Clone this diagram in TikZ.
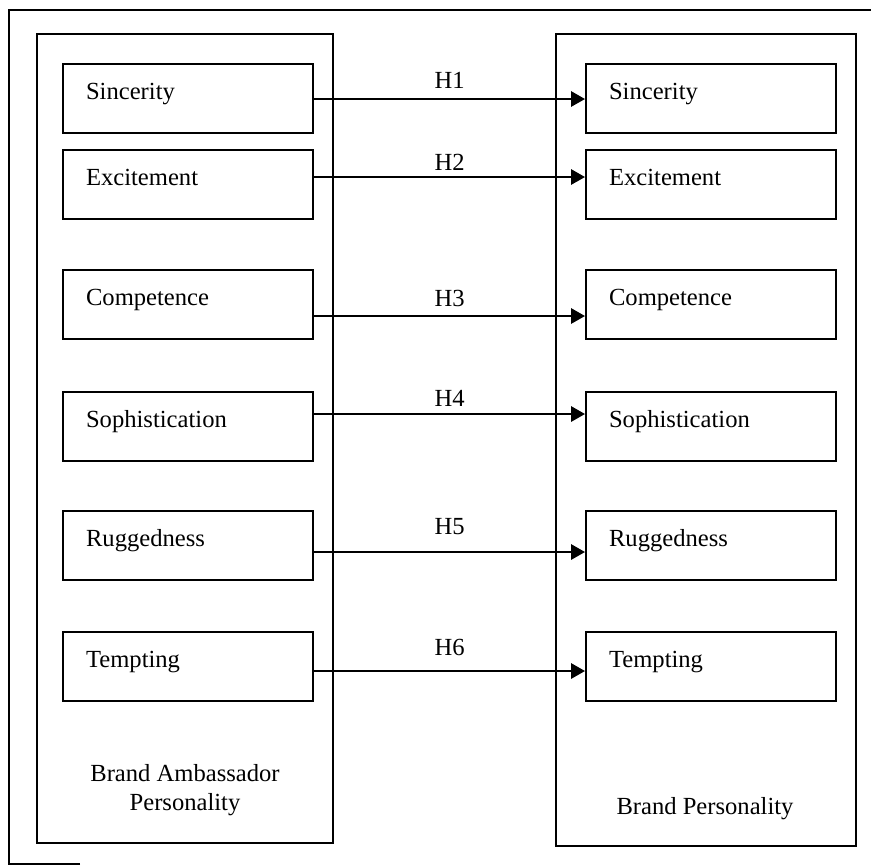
\documentclass[tikz,border=0pt]{standalone}
\usepackage{fontspec}
\setmainfont{Liberation Serif}
\usetikzlibrary{arrows.meta}

\tikzset{
  dimbox/.style={draw,line width=1.8pt,anchor=north west,align=left,
    text width=6.12cm,inner xsep=0.69cm,inner ysep=0pt,
    text height=1.065cm,text depth=1.005cm},
  hyp/.style={line width=1.8pt,-{Triangle[length=0.42cm,width=0.46cm]}},
  hlabel/.style={midway,inner sep=0pt}
}

\begin{document}
\begin{tikzpicture}[x=0.03cm,y=-0.03cm,font=\fontsize{21}{25}\selectfont]
      \useasboundingbox (0,0) rectangle (871,867);
      % frame and the two panels
      \draw[line width=1.8pt] (80,864) -- (9,864) -- (9,10) -- (871,10);
      \draw[line width=1.8pt] (37,34) rectangle (333,843);
      \draw[line width=1.8pt] (556,34) rectangle (856,846);
      \draw
        (185,790) node[align=center] (ambassador){Brand Ambassador\\Personality}
        (705,809) node (brand){Brand Personality};
      % dimensions, ambassador side
      \draw
        (62,63) node[dimbox] (lSin){Sincerity}
        (62,148.5) node[dimbox] (lExc){Excitement}
        (62,268.5) node[dimbox] (lCom){Competence}
        (62,391) node[dimbox] (lSop){Sophistication}
        (62,510) node[dimbox] (lRug){Ruggedness}
        (62,631) node[dimbox] (lTem){Tempting};
      % dimensions, brand side
      \draw
        (585,63) node[dimbox] (rSin){Sincerity}
        (585,148.5) node[dimbox] (rExc){Excitement}
        (585,268.5) node[dimbox] (rCom){Competence}
        (585,391) node[dimbox] (rSop){Sophistication}
        (585,510) node[dimbox] (rRug){Ruggedness}
        (585,631) node[dimbox] (rTem){Tempting};
      \begin{scope}[hyp]
        \draw ([yshift=-1.08cm]lSin.north east) to node[hlabel,above=0.27cm] {H1} ([yshift=-1.08cm]rSin.north west);
        \draw ([yshift=-0.855cm]lExc.north east) to node[hlabel,above=0.15cm] {H2} ([yshift=-0.855cm]rExc.north west);
        \draw ([yshift=-1.425cm]lCom.north east) to node[hlabel,above=0.24cm] {H3} ([yshift=-1.425cm]rCom.north west);
        \draw ([yshift=-0.69cm]lSop.north east) to node[hlabel,above=0.18cm] {H4} ([yshift=-0.69cm]rSop.north west);
        \draw ([yshift=-1.26cm]lRug.north east) to node[hlabel,above=0.48cm] {H5} ([yshift=-1.26cm]rRug.north west);
        \draw ([yshift=-1.2cm]lTem.north east) to node[hlabel,above=0.42cm] {H6} ([yshift=-1.2cm]rTem.north west);
      \end{scope}
    \end{tikzpicture}
\end{document}
